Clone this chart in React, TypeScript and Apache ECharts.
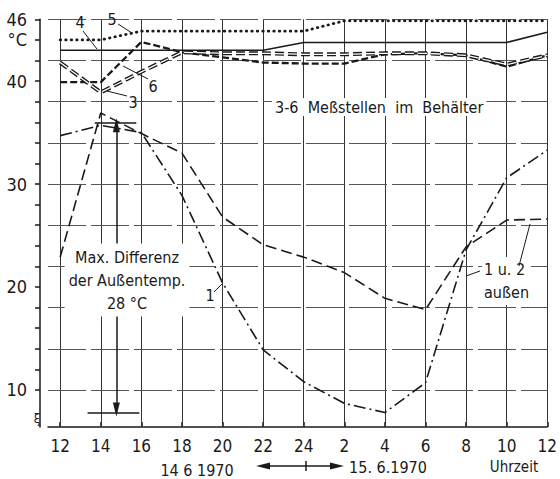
import React, { useEffect, useRef } from "react";
import * as echarts from "echarts";

// hours since 14.6.1970 00:00 (12 .. 36 = 12 h next day)
const hours = [12, 14, 16, 18, 20, 22, 24, 26, 28, 30, 32, 34, 36];
const hourLabels = ["12", "14", "16", "18", "20", "22", "24", "2", "4", "6", "8", "10", "12"];

// outside temperatures
const curve1 = [34.7, 35.7, 35.0, 28.9, 20.4, 13.9, 10.8, 8.7, 7.8, 10.7, 23.6, 30.6, 33.3];
const curve2 = [22.9, 36.9, 34.9, 33.0, 26.8, 24.1, 22.9, 21.4, 18.9, 17.8, 23.9, 26.5, 26.6];
// measuring points in the tank
const curve3 = [41.8, 38.9, 40.9, 42.8, 42.7, 42.7, 42.6, 42.6, 42.7, 42.7, 42.5, 41.6, 42.5];
const curve4 = [43.0, 43.0, 43.0, 43.0, 43.0, 43.0, 43.75, 43.75, 43.75, 43.75, 43.75, 43.75, 44.75];
const curve5 = [44.0, 44.0, 44.85, 44.85, 44.85, 44.85, 44.85, 45.85, 45.85, 45.85, 45.85, 45.85, 45.85];
const curve6 = [39.9, 39.9, 43.8, 42.8, 42.3, 41.8, 41.7, 41.7, 42.6, 42.7, 42.5, 41.4, 42.5];

const yTicks = [10, 12, 14, 16, 18, 20, 22, 24, 26, 28, 30, 32, 34, 36, 38, 40, 42, 44, 46];
const yLabels = [10, 20, 30, 40, 44, 46];
const yGrid = [10, 14, 18, 22, 26, 30, 34, 38, 42, 46];

// annotation values
const maxTemp = 36;
const minTemp = 7.8;
const diffHour = 14.77;

const FONT = "'DejaVu Sans Condensed','Liberation Sans Narrow',Arial,sans-serif";
const INK = "#1a1a1a";

const pairs = (vals: number[]) => vals.map((v, i) => [hours[i], v]);

export default function App() {
  const ref = useRef<HTMLDivElement>(null);
  useEffect(() => {
    if (!ref.current) return;
    const chart = echarts.init(ref.current, null, { renderer: "svg" });
    const base: any = { type: "line", symbol: "none", showSymbol: false, silent: true, animation: false };
    const txt = (text: string, x: number, y: number, extra: any = {}) => ({
      type: "text",
      x,
      y,
      z: 100,
      style: {
        text,
        fill: INK,
        font: `16px ${FONT}`,
        textAlign: "center",
        textVerticalAlign: "middle",
        ...extra,
      },
    });
    const ln = (x1: number, y1: number, x2: number, y2: number, w = 1) => ({
      type: "line",
      z: 100,
      shape: { x1, y1, x2, y2 },
      style: { stroke: INK, lineWidth: w },
    });
    const option: any = {
      animation: false,
      backgroundColor: "#fff",
      grid: { left: 48, right: 9, top: 19.3, bottom: 52 },
      xAxis: {
        type: "value",
        min: 11.4,
        max: 36,
        axisLine: { show: true, lineStyle: { color: INK, width: 1.5 } },
        axisTick: { show: true, customValues: hours, inside: true, length: 5, lineStyle: { color: INK, width: 1.5 } },
        axisLabel: {
          customValues: hours,
          formatter: (v: number) => hourLabels[hours.indexOf(v)] ?? "",
          margin: 10,
          fontSize: 17,
          color: INK,
          fontFamily: FONT,
        },
        splitLine: { show: false },
      },
      yAxis: {
        type: "value",
        min: 6.4,
        max: 46,
        offset: 8,
        axisLine: { show: true, lineStyle: { color: INK, width: 1.5 } },
        axisTick: { show: true, customValues: yTicks, length: 5, lineStyle: { color: INK, width: 1.5 } },
        axisLabel: {
          customValues: yLabels,
          formatter: (v: number) => (v === 44 ? "°C" : String(v)),
          margin: 13,
          fontSize: 18,
          color: INK,
          fontFamily: FONT,
        },
        splitLine: { show: false },
      },
      series: [
        {
          ...base,
          name: "grid",
          data: [],
          z: 1,
          markLine: {
            silent: true,
            symbol: ["none", "none"],
            label: { show: false },
            animation: false,
            data: [
              ...hours.map((h) => ({ xAxis: h, lineStyle: { color: "#333", width: 1, type: "solid" } })),
              ...yGrid.map((v) => ({ yAxis: v, lineStyle: { color: "#555", width: 1, type: [38, 5] } })),
            ],
          },
        },
        { ...base, name: "1", z: 5, data: pairs(curve1), lineStyle: { color: INK, width: 1.6, type: [12, 4, 2, 4] } },
        { ...base, name: "2", z: 5, data: pairs(curve2), lineStyle: { color: INK, width: 1.6, type: [11, 5] } },
        { ...base, name: "3", z: 5, data: pairs(curve3), lineStyle: { color: INK, width: 4, type: [9, 4] } },
        { ...base, name: "3i", z: 6, data: pairs(curve3), lineStyle: { color: "#fff", width: 1.3, type: [9, 4] } },
        { ...base, name: "4", z: 5, data: pairs(curve4), lineStyle: { color: INK, width: 1.6, type: "solid" } },
        { ...base, name: "5", z: 5, data: pairs(curve5), lineStyle: { color: INK, width: 2.8, type: [0.5, 5], cap: "round" } },
        { ...base, name: "6", z: 5, data: pairs(curve6), lineStyle: { color: INK, width: 2.3, type: [7, 3] } },
        {
          ...base,
          name: "annot",
          data: [],
          z: 7,
          markLine: {
            silent: true,
            label: { show: false },
            animation: false,
            symbol: ["none", "none"],
            lineStyle: { color: INK, width: 1.5, type: "solid" },
            data: [
              [
                { coord: [diffHour, maxTemp - 0.3], symbol: "triangle", symbolSize: [7, 14] },
                { coord: [diffHour, minTemp + 0.3], symbol: "triangle", symbolSize: [7, 14] },
              ],
              [{ coord: [13.7, maxTemp] }, { coord: [15.75, maxTemp] }],
              [{ coord: [13.35, minTemp] }, { coord: [15.9, minTemp] }],
            ],
          },
        },
      ],
      graphic: [
        txt("4", 80, 22),
        ln(83, 31, 97, 49),
        txt("5", 112, 19),
        ln(118, 24, 132, 33),
        txt("6", 153, 86),
        ln(148, 79, 123, 66),
        txt("3", 133, 102),
        ln(127, 96, 107, 91),
        txt("3-6  Meßstellen  im  Behälter", 272, 107, {
          textAlign: "left",
          backgroundColor: "#fff",
          padding: [1, 3, 1, 3],
        }),
        txt("Max. Differenz\nder Außentemp.\n28 °C", 127, 280, {
          lineHeight: 23,
          backgroundColor: "#fff",
          padding: [2, 4, 2, 4],
        }),
        txt("1", 210, 295),
        ln(214, 292, 222, 284),
        txt("1 u. 2\naußen", 482, 281, {
          textAlign: "left",
          lineHeight: 23,
          backgroundColor: "#fff",
          padding: [1, 2, 1, 2],
        }),
        ln(466, 276, 480, 271),
        ln(519, 266, 530, 224),
        txt("14 6 1970", 197, 470),
        txt("15. 6.1970", 388, 467),
        txt("Uhrzeit", 514, 467, { font: `15px ${FONT}` }),
        ln(266, 466, 334, 466, 1.5),
        ln(306, 461, 306, 471, 1.5),
        { type: "polygon", z: 100, shape: { points: [[256, 466], [270, 462.5], [270, 469.5]] }, style: { fill: INK } },
        { type: "polygon", z: 100, shape: { points: [[344, 466], [330, 462.5], [330, 469.5]] }, style: { fill: INK } },
        txt("ξ", 37, 418, { font: `13px ${FONT}` }),
      ],
    };
    chart.setOption(option);
    return () => chart.dispose();
  }, []);
  return (
    <div
      ref={ref}
      style={{ position: "fixed", left: 0, top: 0, width: 560, height: 479, background: "#fff" }}
    />
  );
}
